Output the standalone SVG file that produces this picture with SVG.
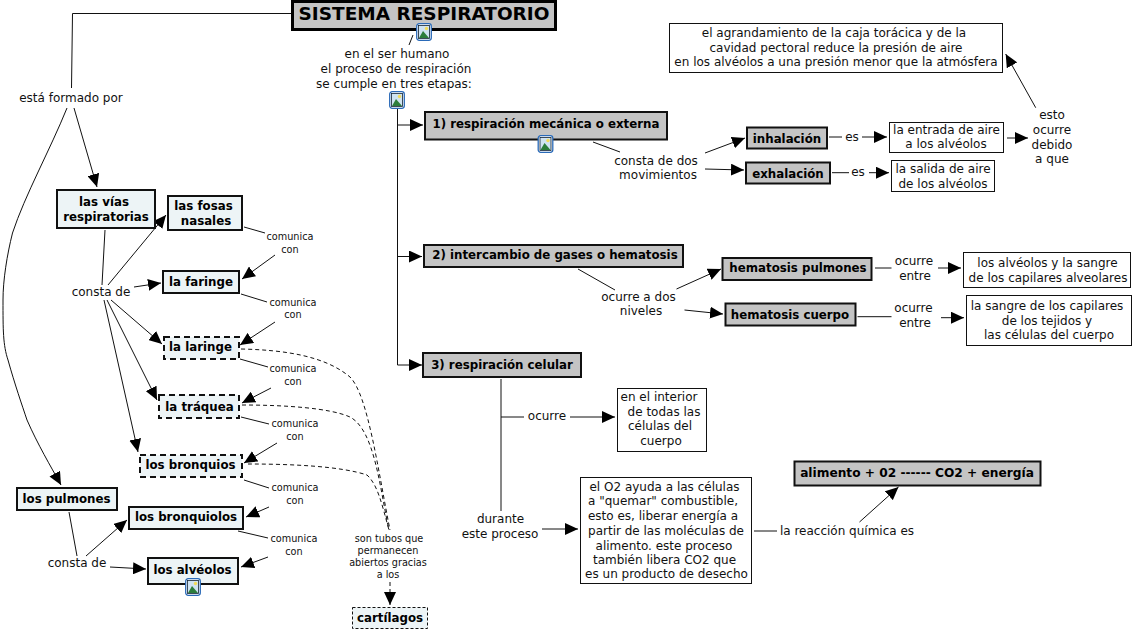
<svg xmlns="http://www.w3.org/2000/svg" width="1134" height="630" viewBox="0 0 1134 630">
<style>
text{font-family:"DejaVu Sans",Verdana,sans-serif;font-size:12px;fill:#111;text-anchor:middle}
.b{font-weight:bold;font-size:11.8px;fill:#000}
.s{font-size:9.7px}
.n{fill:#edf4f6;stroke:#111;stroke-width:2}
.d{fill:#edf4f6;stroke:#111;stroke-width:2;stroke-dasharray:6 4}
.g{fill:#c4c4c4;stroke:#111;stroke-width:2}
.w{fill:#fff;stroke:#111;stroke-width:1}
#c path{fill:none;stroke:#111;stroke-width:1}
#c path.a{marker-end:url(#ar)}
#c path.k{stroke-dasharray:4 3}
</style>
<defs>
<marker id="ar" markerUnits="userSpaceOnUse" markerWidth="14" markerHeight="12" refX="13" refY="6" orient="auto"><path d="M0 0L13 6L0 12Z" fill="#000" stroke="none"/></marker>
<symbol id="ic" width="16" height="18" viewBox="0 0 16 18" overflow="visible">
<rect x="0.700" y="0.700" width="14.600" height="16.600" rx="2.500" fill="#fff" stroke="#2a6ab8" stroke-width="1.300"/>
<rect x="2.500" y="2.500" width="11" height="13" fill="#cfe3f2" stroke="#123" stroke-width="0.800"/>
<circle cx="10.500" cy="5.500" r="1.700" fill="#f3dc5a"/>
<path d="M3 15L7 8L13 15Z" fill="#2c7d3c"/>
</symbol>
</defs>
<rect width="1134" height="630" fill="#fff"/>
<g id="c">
<path d="M291 13.500H72.500L71.500 88"/>
<path class="a" d="M74 108L97 187"/>
<path class="a" d="M67 108C50 150 25 195 12.500 233C7 255 3 280 3 300C3 330 3 345 8 360C15 385 22 405 27 420C38 445 50 465 61 485"/>
<path d="M105 230L102 285"/>
<path class="a" d="M108 285L166 215"/>
<path class="a" d="M134 287L161 283"/>
<path class="a" d="M111 300L162 344"/>
<path class="a" d="M107 300L157 400"/>
<path class="a" d="M104 300L138 452"/>
<path d="M69 512L77 556"/>
<path class="a" d="M86 556L127 520"/>
<path class="a" d="M110 567L146 569"/>
<path d="M244 227L265 233"/>
<path class="a" d="M275 255L242 279"/>
<path d="M241 294L267 302"/>
<path class="a" d="M275 322L240 345"/>
<path d="M240 359L268 367"/>
<path class="a" d="M271 388L242 403"/>
<path d="M241 417L269 424"/>
<path class="a" d="M277 443L244 463"/>
<path d="M244 480L269 488"/>
<path class="a" d="M269 507L246 517"/>
<path d="M238 531L268 538"/>
<path class="a" d="M268 557L241 567"/>
<path class="k" d="M241 349C285 350 325 356 350 377C368 395 378 470 390 530"/>
<path class="k" d="M242 405C285 405 330 408 350 417C375 430 380 490 389 530"/>
<path class="k" d="M248 464C290 464 340 466 367 475C378 485 382 505 389 530"/>
<path class="k a" d="M390 582V605"/>
<path d="M413 35L409 45"/>
<path d="M397.500 107V365"/>
<path class="a" d="M397.500 125H423"/>
<path class="a" d="M397.500 256.500H422"/>
<path class="a" d="M397.500 365H422"/>
<path d="M593 142L620 152"/>
<path class="a" d="M705 153L745 138"/>
<path class="a" d="M705 169L744 170"/>
<path d="M829 137H842"/>
<path class="a" d="M862 137H887"/>
<path d="M832 172.700H849"/>
<path class="a" d="M869 172.700H889"/>
<path class="a" d="M1007 138H1028"/>
<path class="a" d="M1035.700 107.700L1005.700 54"/>
<path d="M578 269L615 290"/>
<path class="a" d="M676.500 289L721 269"/>
<path class="a" d="M684.500 310L723 314"/>
<path d="M875 268H891.500"/>
<path class="a" d="M938 268H961"/>
<path d="M857.500 316.700H891.500"/>
<path class="a" d="M941 317.700H964"/>
<path d="M501 379V511"/>
<path d="M501 417H524"/>
<path class="a" d="M570 417H615"/>
<path class="a" d="M542 529H578"/>
<path d="M754 531H777"/>
<path class="a" d="M859.500 522L898.500 487"/>
</g>
<g id="n-title"><rect x="292.500" y="1.500" width="263" height="28" fill="#c4c4c4" stroke="#000" stroke-width="3"/><text x="424" y="20" class="b" style="font-size:18.500px">SISTEMA RESPIRATORIO</text></g>
<use href="#ic" x="416" y="23"/>
<g id="l-humano"><text x="397" y="58">en el ser humano</text><text x="396" y="73">el proceso de respiración</text><text x="394" y="88">se cumple en tres etapas:</text></g>
<use href="#ic" x="389" y="91"/>
<g id="l-formado"><text x="71" y="102">está formado por</text></g>
<g id="n-vias"><rect class="n" x="57" y="190" width="98" height="38"/><text x="104" y="206" class="b">las vías</text><text x="106" y="220.500" class="b">respiratorias</text></g>
<g id="n-fosas"><rect class="n" x="168" y="196" width="74" height="34"/><text x="203.500" y="210" class="b">las fosas</text><text x="206" y="225" class="b">nasales</text></g>
<g id="n-faringe"><rect class="n" x="163" y="271" width="76" height="22"/><text x="201" y="285.500" class="b">la faringe</text></g>
<g id="n-laringe"><rect class="d" x="164" y="337" width="75" height="22"/><text x="200.500" y="351" class="b">la laringe</text></g>
<g id="n-traquea"><rect class="d" x="159" y="395" width="80" height="23"/><text x="199.500" y="410.500" class="b">la tráquea</text></g>
<g id="n-bronquios"><rect class="d" x="140" y="455" width="102" height="22"/><text x="190.500" y="469" class="b">los bronquios</text></g>
<g id="n-pulmones"><rect class="n" x="17" y="488" width="100" height="22"/><text x="66.500" y="502.500" class="b">los pulmones</text></g>
<g id="n-bronquiolos"><rect class="n" x="129" y="507" width="114" height="22"/><text x="186" y="521" class="b">los bronquiolos</text></g>
<g id="n-alveolos"><rect class="n" x="148" y="558" width="90" height="26"/><text x="192.500" y="574" class="b">los alvéolos</text></g>
<use href="#ic" x="185" y="578"/>
<g id="n-cartilagos"><rect x="352.500" y="607.500" width="75" height="21" fill="#edf4f6" stroke="#111" stroke-dasharray="3 2"/><text x="390" y="622" class="b">cartílagos</text></g>
<g id="l-consta"><text x="101" y="296">consta de</text><text x="77" y="567">consta de</text></g>
<g id="l-com">
<text class="s" x="290" y="240">comunica</text><text class="s" x="290" y="252.500">con</text>
<text class="s" x="293" y="306">comunica</text><text class="s" x="293" y="318">con</text>
<text class="s" x="293" y="372">comunica</text><text class="s" x="293" y="384.500">con</text>
<text class="s" x="295" y="427">comunica</text><text class="s" x="295" y="439.500">con</text>
<text class="s" x="295" y="491">comunica</text><text class="s" x="295" y="503.500">con</text>
<text class="s" x="294" y="542">comunica</text><text class="s" x="294" y="554.500">con</text>
</g>
<g id="l-tubos"><text class="s" x="389" y="542">son tubos que</text><text class="s" x="388" y="554">permanecen</text><text class="s" x="388" y="566">abiertos gracias</text><text class="s" x="388" y="578">a los</text></g>
<g id="n-et1"><rect class="g" x="425" y="112" width="242" height="27.500"/><text x="546" y="128" class="b">1) respiración mecánica o externa</text></g>
<use href="#ic" x="537.500" y="135"/>
<g id="n-et2"><rect class="g" x="424" y="245" width="259" height="22"/><text x="555" y="259" class="b">2) intercambio de gases o hematosis</text></g>
<g id="n-et3"><rect class="g" x="423" y="353" width="158" height="24"/><text x="502" y="369" class="b">3) respiración celular</text></g>
<g id="l-dos"><text x="656" y="165">consta de dos</text><text x="658" y="179">movimientos</text></g>
<g id="n-inh"><rect class="g" x="747" y="127.500" width="80" height="21"/><text x="787" y="142.500" class="b">inhalación</text></g>
<g id="n-exh"><rect class="g" x="746" y="162.500" width="84" height="21"/><text x="788" y="177.500" class="b">exhalación</text></g>
<text x="852" y="141">es</text>
<text x="858" y="176">es</text>
<g id="n-ent"><rect class="w" x="889.500" y="122.500" width="114" height="30"/><text x="946.500" y="134">la entrada de aire</text><text x="946" y="148">a los alvéolos</text></g>
<g id="n-sal"><rect class="w" x="891.500" y="160.500" width="103" height="31"/><text x="943" y="173">la salida de aire</text><text x="943" y="188">de los alvéolos</text></g>
<g id="l-esto"><text x="1052" y="119">esto</text><text x="1052" y="134">ocurre</text><text x="1052" y="149">debido</text><text x="1052" y="163">a que</text></g>
<g id="n-agr"><rect class="w" x="669.500" y="23.500" width="333" height="49"/><text x="834" y="37">el agrandamiento de la caja torácica y de la</text><text x="836" y="52">cavidad pectoral reduce la presión de aire</text><text x="836" y="66">en los alvéolos a una presión menor que la atmósfera</text></g>
<g id="l-niv"><text x="638.500" y="300.500">ocurre a dos</text><text x="641" y="315">niveles</text></g>
<g id="n-hp"><rect class="g" x="722.500" y="258" width="149" height="22"/><text x="798" y="272" class="b">hematosis pulmones</text></g>
<g id="n-hc"><rect class="g" x="725.500" y="303.500" width="130" height="22"/><text x="790" y="318.500" class="b">hematosis cuerpo</text></g>
<g id="l-ent"><text x="914" y="265">ocurre</text><text x="915" y="280">entre</text><text x="913.500" y="312">ocurre</text><text x="915" y="326.500">entre</text></g>
<g id="n-alv"><rect class="w" x="963.500" y="252.500" width="167" height="35"/><text x="1047.500" y="266.500">los alvéolos y la sangre</text><text x="1048" y="281.500">de los capilares alveolares</text></g>
<g id="n-sang"><rect class="w" x="966.500" y="295.500" width="165" height="50"/><text x="1047" y="310">la sangre de los capilares</text><text x="1047" y="325">de los tejidos y</text><text x="1049" y="339">las células del cuerpo</text></g>
<text x="547" y="419.500">ocurre</text>
<g id="n-int"><rect class="w" x="617.500" y="388.500" width="89" height="63"/><text x="659" y="401">en el interior</text><text x="664" y="415.500">de todas las</text><text x="660" y="430">células del</text><text x="661" y="445">cuerpo</text></g>
<g id="l-dur"><text x="500.500" y="523">durante</text><text x="500" y="538">este proceso</text></g>
<g id="n-o2"><rect class="w" x="580.500" y="477.500" width="171" height="106"/>
<text x="664.500" y="491">el O2 ayuda a las células</text><text x="663" y="505">a "quemar" combustible,</text><text x="663" y="520">esto es, liberar energía a</text><text x="666" y="535">partir de las moléculas de</text><text x="664" y="549.500">alimento. este proceso</text><text x="664.500" y="564">también libera CO2 que</text><text x="666.500" y="578">es un producto de desecho</text></g>
<text x="847" y="535">la reacción química es</text>
<g id="n-ali"><rect class="g" x="794.500" y="461.500" width="246" height="24"/><text x="917" y="477" class="b" style="font-size:12.200px">alimento + 02 ------ CO2 + energía</text></g>
</svg>
